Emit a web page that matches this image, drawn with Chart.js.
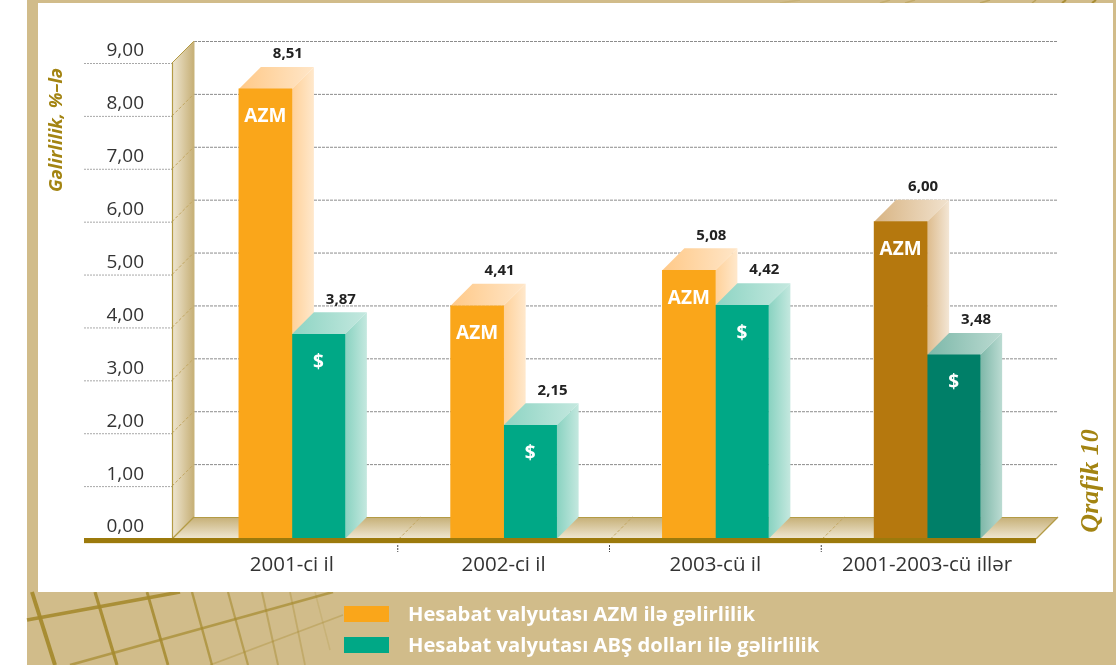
<!DOCTYPE html>
<html lang="az"><head><meta charset="utf-8">
<style>html,body{margin:0;padding:0;background:#fff}canvas{display:block}</style>
<script src="https://cdn.jsdelivr.net/npm/chart.js@4"></script>
</head><body><canvas id="c" width="1116" height="665"></canvas>
<script>
const categories = ["2001-ci il", "2002-ci il", "2003-cü il", "2001-2003-cü illər"];
const azmValues = [8.51, 4.41, 5.08, 6.00];
const usdValues = [3.87, 2.15, 4.42, 3.48];
const azmColors = ["#FAA61A", "#FAA61A", "#FAA61A", "#B5780E"];
const usdColors = ["#00A886", "#00A886", "#00A886", "#007F68"];
const barTags = ["AZM", "$"];
const seriesNames = ["Hesabat valyutası AZM ilə gəlirlilik", "Hesabat valyutası ABŞ dolları ilə gəlirlilik"];
const legendColors = ["#FAA61A", "#00A886"];
const yTitle = "Gəlirlilik, %–lə";
const sideTitle = "Qrafik 10";

const DEPTH = 22, TAN = "#D1BC8A", OLIVE = "#A38412";
const SANS = '"Open Sans", sans-serif';

function grad(ctx, x0, y0, x1, y1, a, b) {
  const g = ctx.createLinearGradient(x0, y0, x1, y1);
  g.addColorStop(0, a); g.addColorStop(1, b);
  return g;
}
function poly(ctx, pts, fill) {
  ctx.beginPath();
  pts.forEach((p, i) => i ? ctx.lineTo(p[0], p[1]) : ctx.moveTo(p[0], p[1]));
  ctx.closePath();
  ctx.fillStyle = fill; ctx.fill();
}
function seg(ctx, x0, y0, x1, y1, color, w, dash) {
  ctx.save();
  ctx.beginPath(); ctx.moveTo(x0, y0); ctx.lineTo(x1, y1);
  ctx.strokeStyle = color; ctx.lineWidth = w; ctx.setLineDash(dash || []); ctx.stroke();
  ctx.restore();
}

const decorLines = [
  [32,592,55,665,4,.95],[95,592,117,665,3.2,.9],[147,592,168,665,2.8,.85],[192,592,212,665,2.4,.7],
  [228,592,248,665,2.2,.6],[262,592,278,665,2,.45],[290,592,305,665,1.8,.35],[315,592,330,650,1.5,.2],
  [27,620,180,592,3.4,.9],[70,665,333,592,2.6,.7],[210,665,343,615,1.8,.35],
  [780,3,800,0,1.5,.2],[880,3,890,0,1.5,.3],[905,3,915,0,1.5,.35],[980,3,990,0,1.5,.45],[1032,3,1036,0,1.5,.5],[1062,3,1066,0,2,.9],[1092,3,1096,0,2,.95]
];

const scene = {
  id: "scene",
  beforeDraw(chart) {
    const ctx = chart.ctx;
    ctx.save();
    ctx.fillStyle = "#fff"; ctx.fillRect(0, 0, 1116, 665);
    ctx.fillStyle = TAN; ctx.fillRect(27, 0, 1089, 665);
    decorLines.forEach(l => {
      ctx.globalAlpha = l[5];
      seg(ctx, l[0], l[1], l[2], l[3], "#A58A2E", l[4]);
    });
    ctx.globalAlpha = 1;
    ctx.fillStyle = "#fff"; ctx.fillRect(38, 3, 1075, 589);
    ctx.restore();
  },
  beforeDatasetsDraw(chart) {
    const ctx = chart.ctx, x = chart.scales.x, y = chart.scales.y;
    const base = y.getPixelForValue(0), wallL = 172, floorR = 1036;
    const topY = y.getPixelForValue(y.max);
    ctx.save();
    y.ticks.forEach(t => {
      const py = y.getPixelForValue(t.value);
      if (t.value > 0) {
        seg(ctx, 84, py + .5, wallL, py + .5, "#A8A8A8", 1, [2, 1]);
        seg(ctx, wallL + DEPTH, py - DEPTH + .5, floorR + DEPTH - 0, py - DEPTH + .5, "#8C8C8C", 1, [3, 1]);
      }
    });
    poly(ctx, [[wallL, topY], [wallL + DEPTH, topY - DEPTH], [wallL + DEPTH, base - DEPTH], [wallL, base]],
      grad(ctx, wallL, 0, wallL + DEPTH, 0, "#EFE7D2", "#C6AF76"));
    y.ticks.forEach(t => {
      const py = y.getPixelForValue(t.value);
      if (t.value > 0 && t.value < y.max) seg(ctx, wallL, py, wallL + DEPTH, py - DEPTH, "#C2A661", 1, [3, 2]);
    });
    seg(ctx, wallL + .5, topY, wallL + .5, base, "#B39B45", 1.2);
    seg(ctx, wallL, topY, wallL + DEPTH, topY - DEPTH, "#B39B45", 1);
    seg(ctx, wallL + DEPTH, base - DEPTH, wallL + DEPTH, topY - DEPTH, "#C8B47A", 1);
    poly(ctx, [[wallL, base], [wallL + DEPTH, base - DEPTH], [floorR + DEPTH, base - DEPTH], [floorR, base]],
      grad(ctx, 0, base - DEPTH, 0, base, "#C6AF76", "#F0E8D4"));
    seg(ctx, wallL + DEPTH, base - DEPTH + .5, floorR + DEPTH, base - DEPTH + .5, "#B39B45", 1);
    seg(ctx, wallL, base, wallL + DEPTH, base - DEPTH, "#B39B45", 1.2);
    seg(ctx, floorR, base, floorR + DEPTH, base - DEPTH, "#B39B45", 1.2);
    for (let i = 0; i < categories.length - 1; i++) {
      const sx = (x.getPixelForValue(i) + x.getPixelForValue(i + 1)) / 2;
      seg(ctx, sx + 1, base, sx + 1 + DEPTH, base - DEPTH, "#C2A661", 1, [3, 2]);
    }
    chart.data.datasets.forEach((ds, di) => {
      chart.getDatasetMeta(di).data.forEach((el, i) => {
        const L = el.x - el.width / 2, R = el.x + el.width / 2, T = el.y;
        const dark = i === categories.length - 1;
        let c;
        if (di === 0) c = dark ? ["#D8B483", "#F1E2CE", "#DDBB8C", "#F3E6D5"] : ["#FFC988", "#FFE6C8", "#FFD199", "#FFE8CC"];
        else c = dark ? ["#7CB8A9", "#BBDAD1", "#7DB7A8", "#BBDBD2"] : ["#8DD4C3", "#C4E8DF", "#88D2C0", "#C4E8DF"];
        poly(ctx, [[L, T], [L + DEPTH, T - DEPTH], [R + DEPTH, T - DEPTH], [R, T]],
          grad(ctx, L, 0, R + DEPTH, 0, c[0], c[1]));
        poly(ctx, [[R, T], [R + DEPTH, T - DEPTH], [R + DEPTH, base - DEPTH], [R, base]],
          grad(ctx, R, 0, R + DEPTH, 0, c[2], c[3]));
      });
    });
    ctx.restore();
  },
  afterDatasetsDraw(chart) {
    const ctx = chart.ctx, x = chart.scales.x, y = chart.scales.y;
    const base = y.getPixelForValue(0);
    ctx.save();
    ctx.fillStyle = "#F3ECD9"; ctx.fillRect(84, base + 4, 952, 1);
    ctx.fillStyle = "#9C7A0C"; ctx.fillRect(84, base - 1, 952, 5);
    for (let i = 0; i < categories.length - 1; i++) {
      const sx = (x.getPixelForValue(i) + x.getPixelForValue(i + 1)) / 2;
      seg(ctx, sx, base + 6, sx, base + 13, "#444", 1, [2, 1]);
    }
    ctx.textAlign = "center"; ctx.textBaseline = "middle";
    chart.data.datasets.forEach((ds, di) => {
      chart.getDatasetMeta(di).data.forEach((el, i) => {
        ctx.fillStyle = "#fff";
        ctx.font = "bold 19px " + SANS;
        ctx.fillText(barTags[di], el.x, el.y + 28);
        ctx.fillStyle = "#222";
        ctx.font = "bold 15px " + SANS;
        ctx.fillText(ds.data[i].toFixed(2).replace(".", ","), el.x + DEPTH + .5, el.y - DEPTH - 13);
      });
    });
    ctx.save();
    ctx.translate(57, 130); ctx.rotate(-Math.PI / 2);
    ctx.fillStyle = OLIVE; ctx.font = "italic bold 18.4px " + SANS;
    ctx.fillText(yTitle, 0, 0);
    ctx.restore();
    ctx.save();
    ctx.translate(1091, 481); ctx.rotate(-Math.PI / 2);
    ctx.fillStyle = OLIVE; ctx.font = 'italic bold 26px "Liberation Serif", serif';
    ctx.fillText(sideTitle, 0, 0);
    ctx.restore();
    ctx.textAlign = "left";
    seriesNames.forEach((name, i) => {
      const cy = 614 + i * 31;
      ctx.fillStyle = legendColors[i]; ctx.fillRect(344, cy - 8, 45, 16);
      ctx.fillStyle = "#fff"; ctx.font = "bold 20.2px " + SANS;
      ctx.fillText(name, 408, cy + 1);
    });
    ctx.restore();
  }
};

new Chart(document.getElementById("c"), {
  type: "bar",
  data: {
    labels: categories,
    datasets: [
      { label: seriesNames[0], data: azmValues, backgroundColor: azmColors, barThickness: 53, borderWidth: 0 },
      { label: seriesNames[1], data: usdValues, backgroundColor: usdColors, barThickness: 53, borderWidth: 0 }
    ]
  },
  options: {
    responsive: false, animation: false, devicePixelRatio: 1,
    layout: { padding: { top: 63, right: 83, bottom: 72, left: 0 } },
    plugins: { legend: { display: false }, tooltip: { enabled: false } },
    scales: {
      x: {
        grid: { display: false, drawTicks: false }, border: { display: false },
        afterFit(s) { s.height = 54; },
        ticks: { color: "#333", font: { family: SANS, size: 20.5 }, padding: 14, maxRotation: 0 }
      },
      y: {
        min: 0, max: 9,
        grid: { display: false, drawTicks: false }, border: { display: false },
        afterFit(s) { s.width = 186; },
        ticks: {
          stepSize: 1, color: "#333", font: { family: SANS, size: 19 }, padding: 42, labelOffset: -12,
          callback: v => v.toFixed(2).replace(".", ",")
        }
      }
    }
  },
  plugins: [scene]
});
</script></body></html>
